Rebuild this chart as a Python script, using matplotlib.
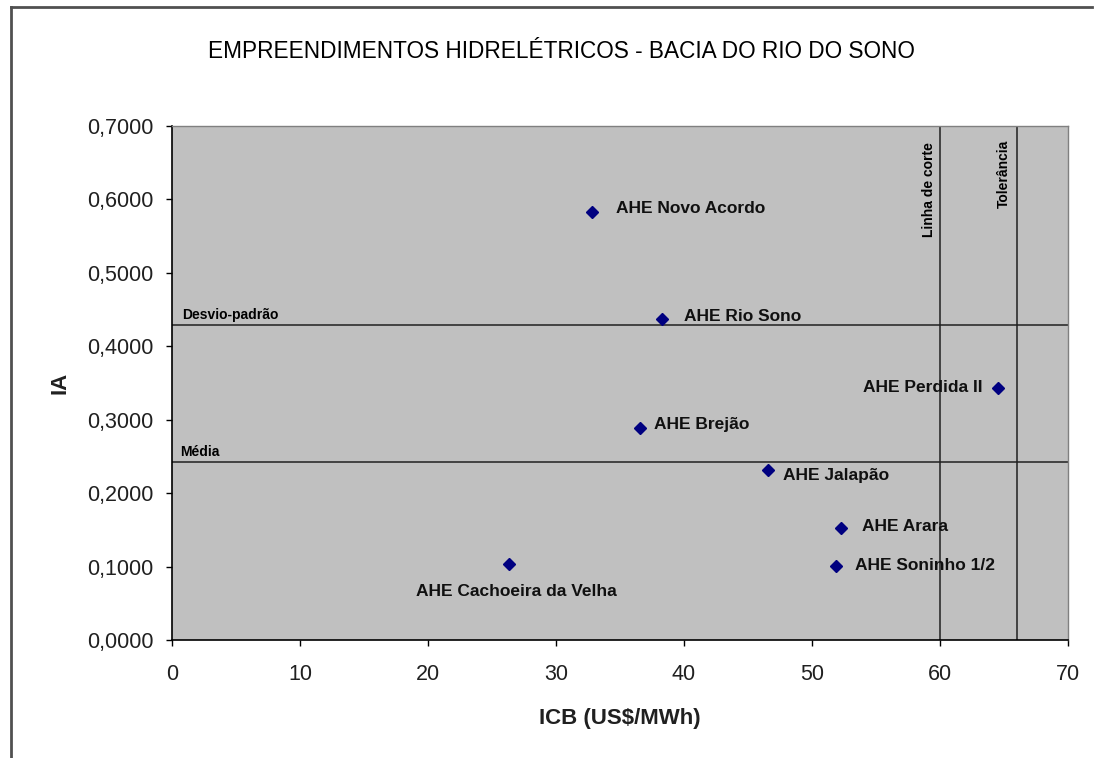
import matplotlib.pyplot as plt
from matplotlib.lines import Line2D
from matplotlib.ticker import FuncFormatter

plt.rcParams['font.family'] = ['Liberation Sans', 'DejaVu Sans']

nomes = ["AHE Novo Acordo", "AHE Rio Sono", "AHE Perdida II", "AHE Brejão",
         "AHE Jalapão", "AHE Arara", "AHE Soninho 1/2", "AHE Cachoeira da Velha"]
icb = [32.8, 38.3, 64.5, 36.6, 46.6, 52.3, 51.9, 26.3]
ia = [0.583, 0.437, 0.343, 0.289, 0.232, 0.153, 0.101, 0.104]

media = 0.2425
desvio = 0.429
linha_corte = 60
tolerancia = 66

# label offsets in pixels (dx, dy, ha)
offsets = [(24, 3, 'left'), (22, 3, 'left'), (-15, 1, 'right'), (14, 3, 'left'),
           (15, -6, 'left'), (21, 1, 'left'), (19, 0, 'left'), (8, -28, 'center')]

fig = plt.figure(figsize=(10.96, 7.58), dpi=100)
ax = fig.add_axes([172/1096, 1 - 640/758, (1068-172)/1096, (640-126)/758])
ax.set_facecolor('#C0C0C0')

ax.axhline(desvio, color='#202020', lw=1.1)
ax.axhline(media, color='#202020', lw=1.1)
ax.axvline(linha_corte, color='#202020', lw=1.1)
ax.axvline(tolerancia, color='#202020', lw=1.1)

ax.plot(icb, ia, 'D', color='#000080', markersize=6.3, zorder=3)

for nome, x, y, (dx, dy, ha) in zip(nomes, icb, ia, offsets):
    ax.annotate(nome, (x, y), xytext=(dx, dy), textcoords='offset pixels',
                ha=ha, va='center', fontsize=12.5, fontweight='bold', color='#101010')

ax.annotate("Desvio-padrão", (0, desvio), xytext=(10, 3), textcoords='offset pixels',
            ha='left', va='bottom', fontsize=10, fontweight='bold')
ax.annotate("Média", (0, media), xytext=(8, 3), textcoords='offset pixels',
            ha='left', va='bottom', fontsize=10, fontweight='bold')
ax.annotate("Linha de corte", (linha_corte, 0.7), xytext=(-4, -16), textcoords='offset pixels',
            ha='right', va='top', rotation=90, fontsize=10, fontweight='bold')
ax.annotate("Tolerância", (tolerancia, 0.7), xytext=(-6, -14), textcoords='offset pixels',
            ha='right', va='top', rotation=90, fontsize=10, fontweight='bold')

ax.set_xlim(0, 70)
ax.set_ylim(0, 0.7)
ax.set_xticks(range(0, 71, 10))
ax.set_yticks([i / 10 for i in range(8)])
ax.yaxis.set_major_formatter(FuncFormatter(lambda v, p: f"{v:.4f}".replace('.', ',')))
ax.tick_params(direction='out', length=4.5, width=1, labelsize=15.5, colors='black',
               labelcolor='#202020')
ax.tick_params(axis='x', pad=13)
ax.tick_params(axis='y', pad=9)

for s in ['left', 'bottom']:
    ax.spines[s].set_color('black')
    ax.spines[s].set_linewidth(1.2)
for s in ['top', 'right']:
    ax.spines[s].set_color('#808080')
    ax.spines[s].set_linewidth(1)

ax.set_xlabel("ICB (US$/MWh)", fontsize=16, fontweight='bold', color='#202020')
ax.set_ylabel("IA", fontsize=16, fontweight='bold', color='#202020')
ax.xaxis.set_label_coords(0.5, -0.152)
ax.yaxis.set_label_coords(-0.125, 0.5)
ax.xaxis.label.set_va('center')
ax.yaxis.label.set_va('center')

fig.text(561/1096, 1 - 52/758, "EMPREENDIMENTOS HIDRELÉTRICOS - BACIA DO RIO DO SONO",
         ha='center', va='center', fontsize=16.3, color='black')

# moldura do gráfico
fig.add_artist(Line2D([11/1096, 11/1096], [0, 1 - 7/758], color='#505050', lw=2))
fig.add_artist(Line2D([11/1096, 1092/1096], [1 - 7/758, 1 - 7/758], color='#505050', lw=2))

fig.savefig('out.png', dpi=100)
